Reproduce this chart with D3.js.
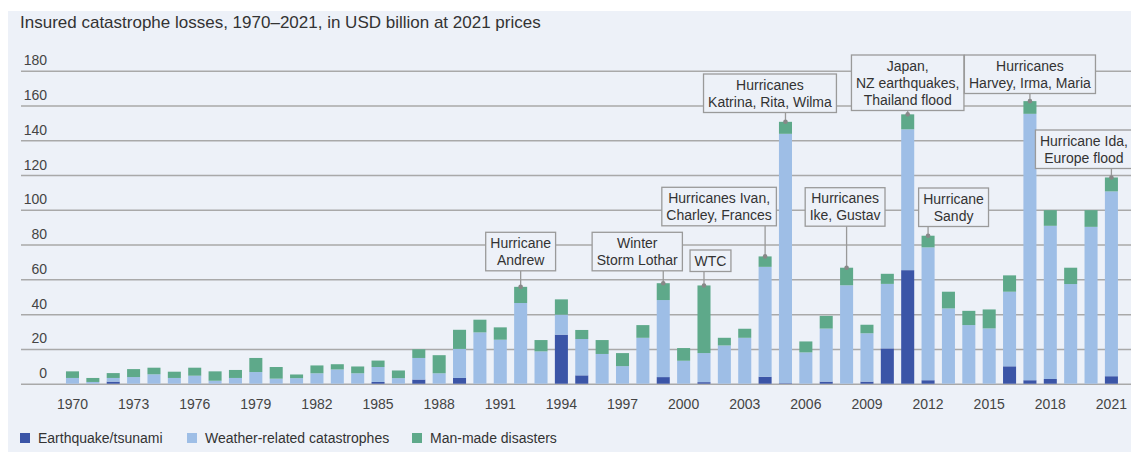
<!DOCTYPE html>
<html>
<head>
<meta charset="utf-8">
<script src="https://cdn.jsdelivr.net/npm/d3@7"></script>
<style>
    html, body { margin: 0; padding: 0; background: #ffffff; }
    svg { display: block; font-family: "Liberation Sans", Arial, sans-serif; }
</style>
</head>
<body>
<script>
'use strict';

// years on the x axis
const years = d3.range(1970, 2022);

// insured losses, USD bn at 2021 prices
const earthquake = [
    0, 0, 1.2, 0, 0, 0, 0, 0, 0, 0,
    0, 0, 0, 0, 0, 1.0, 0, 2.4, 0, 3.3,
    0, 0, 0, 0, 28.2, 4.8, 0, 0, 0, 3.8,
    0, 0.9, 0, 0, 4.0, 0.3, 0, 1.2, 0, 1.2,
    20.3, 65.3, 2.0, 0, 0, 0, 10.0, 2.0, 2.7, 0,
    0, 4.3
];
const weather = [
    3.3, 1.0, 2.1, 3.8, 5.4, 3.3, 4.6, 1.7, 3.3, 6.7,
    2.9, 3.2, 6.0, 8.2, 6.0, 8.6, 3.2, 12.4, 6.0, 16.7,
    29.5, 25.3, 46.4, 18.6, 11.5, 20.9, 17.1, 10.1, 26.4, 44.3,
    13.2, 16.7, 22.0, 26.4, 63.2, 143.4, 18.0, 30.5, 56.6, 27.8,
    37.1, 81.0, 76.4, 43.3, 33.7, 31.8, 42.9, 153.2, 88.1, 57.3,
    90.2, 106.3
];
const manMade = [
    3.8, 2.3, 2.8, 4.6, 3.8, 3.6, 4.6, 5.4, 4.6, 8.1,
    6.7, 2.1, 4.5, 3.0, 3.9, 3.7, 4.4, 5.0, 10.4, 11.0,
    7.3, 7.1, 9.3, 6.5, 8.8, 5.2, 8.0, 7.5, 7.3, 9.7,
    7.3, 38.9, 4.4, 5.2, 6.0, 6.9, 6.3, 7.3, 10.1, 4.9,
    5.8, 8.6, 6.7, 9.6, 8.2, 10.9, 9.4, 7.3, 9.0, 9.4,
    9.6, 8.0
];

const seriesNames = ["Earthquake/tsunami", "Weather-related catastrophes", "Man-made disasters"];
const yTicks = d3.range(0, 181, 20);
const xTicks = d3.range(1970, 2022, 3);

// annotated events
const eventYears = [1992, 1999, 2001, 2004, 2005, 2008, 2011, 2012, 2017, 2021];
const eventLabels = [
    ["Hurricane", "Andrew"],
    ["Winter", "Storm Lothar"],
    ["WTC"],
    ["Hurricanes Ivan,", "Charley, Frances"],
    ["Hurricanes", "Katrina, Rita, Wilma"],
    ["Hurricanes", "Ike, Gustav"],
    ["Japan,", "NZ earthquakes,", "Thailand flood"],
    ["Hurricane", "Sandy"],
    ["Hurricanes", "Harvey, Irma, Maria"],
    ["Hurricane Ida,", "Europe flood"]
];

(function() {

    const measurements = {
        width: 1131,
        height: 454,
        plotLeft: 62.3,
        plotRight: 1121.6,
        baseline: 383.7,
        top: 70.7
    };

    const colors = ["#3b55a7", "#9ebee6", "#5ea98a"];
    const bg = "#edf1f8";

    // box placement for each annotation: centre offset from bar (px), box top (px)
    const boxLayout = [
        {dx: 0, top: 232.3},
        {dx: -26, top: 232.3},
        {dx: 6.5, top: 250},
        {dx: -46, top: 187.3},
        {dx: -15.5, top: 74},
        {dx: -1.5, top: 187.7},
        {dx: 0, top: 55},
        {dx: 25.5, top: 188},
        {dx: 0, top: 55},
        {dx: -27.5, top: 130}
    ];

    let svg;

    window.onload = function() {
        svg = d3.select('body')
            .append('svg')
            .attr('width', measurements.width)
            .attr('height', measurements.height);

        svg.append('rect')
            .attr('x', 8)
            .attr('y', 11)
            .attr('width', measurements.width - 8)
            .attr('height', 441)
            .attr('fill', bg);

        let rows = years.map((y, i) => ({
            year: y,
            eq: earthquake[i],
            weather: weather[i],
            manmade: manMade[i]
        }));

        let funcs = drawAxes();
        plotData(rows, funcs);
        drawAnnotations(rows, funcs);
        makeLabels();
    };

    function drawAxes() {
        let xScale = d3.scaleBand()
            .domain(years)
            .range([measurements.plotLeft, measurements.plotRight])
            .paddingInner(0.36)
            .paddingOuter(0.18);

        let yScale = d3.scaleLinear()
            .domain([0, 180])
            .range([measurements.baseline, measurements.top]);

        // horizontal grid lines with labels sitting above them
        let yAxis = d3.axisRight(yScale)
            .tickValues(yTicks)
            .tickSize(measurements.width - 21)
            .tickFormat(d3.format('d'));

        let gy = svg.append('g')
            .attr('transform', 'translate(21, 0)')
            .call(yAxis);
        gy.select('.domain').remove();
        gy.selectAll('line')
            .attr('stroke', '#a9a9a9')
            .attr('stroke-width', 1.5);
        gy.selectAll('text')
            .attr('x', 26)
            .attr('dy', -6)
            .attr('text-anchor', 'end')
            .attr('fill', '#444')
            .style('font-size', '14px');

        let xAxis = d3.axisBottom(xScale)
            .tickValues(xTicks)
            .tickSize(0)
            .tickPadding(0);

        let gx = svg.append('g')
            .attr('transform', 'translate(0, 409)')
            .call(xAxis);
        gx.select('.domain').remove();
        gx.selectAll('text')
            .attr('dy', 0)
            .attr('fill', '#444')
            .style('font-size', '14px');

        return { xScale: xScale, yScale: yScale };
    }

    function plotData(rows, funcs) {
        let stack = d3.stack().keys(['eq', 'weather', 'manmade']);
        let layers = stack(rows);

        svg.append('g')
            .selectAll('g')
            .data(layers)
            .enter()
            .append('g')
                .attr('fill', (d, i) => colors[i])
            .selectAll('rect')
            .data((d) => d)
            .enter()
            .append('rect')
                .attr('x', (d) => funcs.xScale(d.data.year))
                .attr('width', funcs.xScale.bandwidth())
                .attr('y', (d) => funcs.yScale(d[1]))
                .attr('height', (d) => funcs.yScale(d[0]) - funcs.yScale(d[1]));
    }

    function drawAnnotations(rows, funcs) {
        let lineH = 17;
        let g = svg.append('g');

        eventYears.forEach((yr, i) => {
            let row = rows.find((r) => r.year == yr);
            let total = row.eq + row.weather + row.manmade;
            let bx = funcs.xScale(yr) + funcs.xScale.bandwidth() / 2;
            let by = funcs.yScale(total);
            let lay = boxLayout[i];
            let lines = eventLabels[i];
            let cx = bx + lay.dx;
            let h = lines.length * lineH + 4.5;

            // leader line from box to bar top
            g.append('line')
                .attr('x1', bx).attr('x2', bx)
                .attr('y1', lay.top + h).attr('y2', by)
                .attr('stroke', '#999')
                .attr('stroke-width', 1.3);
            g.append('circle')
                .attr('cx', bx).attr('cy', by)
                .attr('r', 2.3)
                .attr('fill', '#888');

            let box = g.append('rect')
                .attr('y', lay.top)
                .attr('height', h)
                .attr('fill', bg)
                .attr('stroke', '#9a9a9a')
                .attr('stroke-width', 1.3);

            let txt = g.append('text')
                .attr('text-anchor', 'middle')
                .attr('fill', '#333')
                .style('font-size', '14px');
            lines.forEach((l, j) => {
                txt.append('tspan')
                    .attr('x', cx)
                    .attr('y', lay.top + 15.5 + j * lineH)
                    .text(l);
            });

            let w = txt.node().getBBox().width + 9;
            box.attr('x', cx - w / 2).attr('width', w);
        });
    }

    function makeLabels() {
        svg.append('text')
            .attr('x', 20)
            .attr('y', 28)
            .attr('fill', '#333')
            .style('font-size', '17px')
            .text('Insured catastrophe losses, 1970\u20132021, in USD billion at 2021 prices');

        // legend
        let xs = [20, 187, 412];
        let legend = svg.append('g')
            .selectAll('g')
            .data(seriesNames)
            .enter()
            .append('g')
            .attr('transform', (d, i) => 'translate(' + xs[i] + ', 438)');

        legend.append('rect')
            .attr('x', 0)
            .attr('y', -5)
            .attr('width', 10)
            .attr('height', 10)
            .attr('fill', (d, i) => colors[i]);

        legend.append('text')
            .attr('x', 18)
            .attr('y', 5)
            .attr('fill', '#333')
            .style('font-size', '14px')
            .text((d) => d);
    }
})();
</script>
</body>
</html>
